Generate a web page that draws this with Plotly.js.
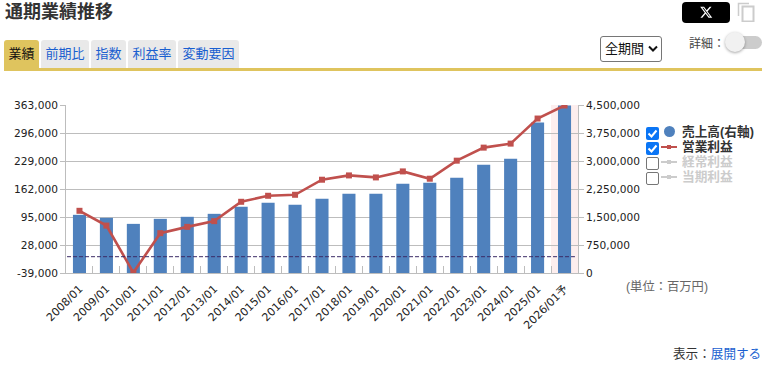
<!DOCTYPE html>
<html lang="ja"><head><meta charset="utf-8">
<script src="https://cdn.plot.ly/plotly-3.0.1.min.js"></script>
<style>
html,body{margin:0;padding:0;background:#fff}
body{width:767px;height:373px;overflow:hidden;position:relative;font-family:"Liberation Sans","Noto Sans CJK JP",sans-serif}
#chart{position:absolute;left:0;top:0;width:767px;height:373px}
.o{position:absolute;white-space:nowrap;line-height:1;z-index:2}
.tab{position:absolute;top:40px;height:28px;line-height:27px;text-align:center;font-size:13px;color:#1a5fd0;background:#e9e9e9;border-radius:3px 3px 0 0;z-index:2}
.leg{position:absolute;left:682px;font-size:12.7px;font-weight:700;line-height:14px;color:#333;z-index:2}
.off{color:#ccc}
.cb{position:absolute;left:646px;width:13px;height:13px;border-radius:2px;box-sizing:border-box;z-index:2}
.cb.on{background:#0a75f5}
.cb.no{border:1px solid #767676;background:#fff}
.sw{position:absolute;left:661px;width:16px;height:2px;z-index:2}
.mk{position:absolute;left:667px;width:4px;height:4px;z-index:2}
</style></head><body>
<div id="chart"></div>
<div class="o" style="left:5px;top:3px;font-size:18px;font-weight:700;color:#333">通期業績推移</div>
<div class="tab" style="left:4px;width:35px;background:#dfc45e;color:#111">業績</div>
<div class="tab" style="left:41px;width:48px">前期比</div>
<div class="tab" style="left:91px;width:35px">指数</div>
<div class="tab" style="left:128px;width:48px">利益率</div>
<div class="tab" style="left:178px;width:61px">変動要因</div>
<div class="o" style="left:4px;top:68px;width:758px;height:3px;background:#dfc45e"></div>
<div class="o" style="left:682px;top:2px;width:48px;height:21px;background:#000;border-radius:4px">
<svg width="48" height="21" style="display:block"><g transform="translate(17.5,3.5) scale(0.56)"><path fill="#fff" d="M18.2 2.25h3.3l-7.2 8.26 8.5 11.24h-6.66l-5.2-6.82-5.97 6.82H1.66l7.73-8.83L1.25 2.25H8.1l4.7 6.22zm-1.16 17.5h1.83L7.08 4.13H5.12z"/></g></svg></div>
<svg class="o" style="left:737px;top:2px" width="18" height="20"><rect x="5.5" y="4.5" width="11" height="15" fill="none" stroke="#ccc" stroke-width="2"/><path d="M1.5 14V1.5H12" fill="none" stroke="#ccc" stroke-width="1.5"/></svg>
<div class="o" style="left:600px;top:36px;height:24px;border:1px solid #767676;border-radius:3px;font-size:13px;line-height:23px;color:#111;padding-left:4px;box-sizing:content-box;width:56px">全期間<svg style="position:absolute;left:47px;top:8px" width="10" height="8"><path d="M1 1.5L5 5.5L9 1.5" fill="none" stroke="#111" stroke-width="2"/></svg></div>
<div class="o" style="left:689px;top:38px;font-size:12px;color:#444">詳細：</div>
<div class="o" style="left:728px;top:36px;width:34px;height:13px;background:#ccc;border-radius:7px"></div>
<div class="o" style="left:725px;top:32px;width:20px;height:20px;background:#f1f1f1;border-radius:50%;box-shadow:0 1px 3px rgba(0,0,0,.35)"></div>

<div class="cb on" style="top:127px"><svg width="13" height="13" style="display:block"><path d="M2.5 6.5L5.5 9.5L10.5 3.5" fill="none" stroke="#fff" stroke-width="2"/></svg></div>
<div class="cb on" style="top:142px"><svg width="13" height="13" style="display:block"><path d="M2.5 6.5L5.5 9.5L10.5 3.5" fill="none" stroke="#fff" stroke-width="2"/></svg></div>
<div class="cb no" style="top:157px"></div>
<div class="cb no" style="top:172px"></div>
<div class="o" style="left:663.5px;top:125.5px;width:11px;height:11px;border-radius:50%;background:#4f81bd"></div>
<div class="sw" style="top:146px;background:#c0504d"></div><div class="mk" style="top:145px;background:#c0504d"></div>
<div class="sw" style="top:161px;background:#ccc"></div><div class="mk" style="top:160px;background:#ccc"></div>
<div class="sw" style="top:176px;background:#ccc"></div><div class="mk" style="top:175px;background:#ccc"></div>
<div class="leg" style="top:125px">売上高(右軸)</div>
<div class="leg" style="top:140px">営業利益</div>
<div class="leg off" style="top:155px">経常利益</div>
<div class="leg off" style="top:170px">当期利益</div>
<div class="o" style="left:626px;top:281px;font-size:12.3px;color:#666">(単位：百万円)</div>
<div class="o" style="left:673px;top:348px;font-size:12.6px;color:#333">表示：<span style="color:#1a5fd0">展開する</span></div>
<script>
const categories=["2008/01","2009/01","2010/01","2011/01","2012/01","2013/01","2014/01","2015/01","2016/01","2017/01","2018/01","2019/01","2020/01","2021/01","2022/01","2023/01","2024/01","2025/01","2026/01予"];
const sales=[1558000,1478000,1316000,1451000,1505000,1585000,1773000,1881000,1827000,1988000,2122000,2122000,2391000,2418000,2552000,2902000,3063000,4030000,4487000];
const operatingProfit=[109800,74500,-38000,56300,71400,85100,131400,145800,148200,184200,194500,189700,204100,186600,229800,261000,270600,330600,361800];
const leftTicks=[-39000,28000,95000,162000,229000,296000,363000];
const rightTicks=[0,750000,1500000,2250000,3000000,3750000,4500000];
const fmt=v=>v.toLocaleString('en-US');
const font={family:'"DejaVu Sans","Noto Sans CJK JP",sans-serif',size:10.6,color:'#222'};
const axisCol='#bdbdbd';
Plotly.newPlot('chart',[
 {type:'bar',name:'売上高(右軸)',x:categories,y:sales,yaxis:'y',marker:{color:'#4f81bd',line:{width:0}},width:0.485,hoverinfo:'x+y'},
 {type:'scatter',mode:'lines+markers',name:'営業利益',x:categories,y:operatingProfit,yaxis:'y2',line:{color:'#c0504d',width:2.6},marker:{color:'#c0504d',size:6,symbol:'square'},hoverinfo:'x+y'}
],{
 width:767,height:373,paper_bgcolor:'rgba(0,0,0,0)',plot_bgcolor:'rgba(0,0,0,0)',
 margin:{l:66,r:189,t:105,b:100,pad:0},showlegend:false,bargap:0.5,font:font,
 xaxis:{type:'category',range:[-0.5,18.5],autorange:false,categoryorder:'array',categoryarray:categories,tickmode:'array',tickvals:categories,ticktext:categories,tickangle:-45,ticks:'inside',ticklen:7,tickwidth:1,tickcolor:axisCol,tickson:'boundaries',ticklabelstandoff:4,showgrid:false,showline:true,linecolor:axisCol,linewidth:1,tickfont:{family:font.family,size:11,color:'#222'},automargin:false},
 yaxis:{side:'right',range:[0,4500000],tickmode:'array',tickvals:rightTicks,ticktext:rightTicks.map(fmt),showgrid:true,gridcolor:axisCol,gridwidth:1,zeroline:false,showline:true,linecolor:axisCol,linewidth:1,ticks:'outside',ticklen:5,tickcolor:axisCol,tickfont:font,automargin:false},
 yaxis2:{side:'left',overlaying:'y',range:[-39000,363000],tickmode:'array',tickvals:leftTicks,ticktext:leftTicks.map(fmt),showgrid:false,zeroline:false,showline:true,linecolor:axisCol,linewidth:1,ticks:'outside',ticklen:5,tickcolor:axisCol,tickfont:font,automargin:false},
 shapes:[
  {type:'rect',layer:'below',xref:'x',yref:'paper',x0:17.5,x1:18.5,y0:0,y1:1,fillcolor:'#fdeeee',line:{width:0}},
  {type:'line',layer:'above',xref:'paper',yref:'y2',x0:0.002,x1:0.994,y0:0,y1:0,line:{color:'#3a2a66',width:1,dash:'4px,2px'}}
 ]
},{displayModeBar:false,staticPlot:true});
</script>
</body></html>
